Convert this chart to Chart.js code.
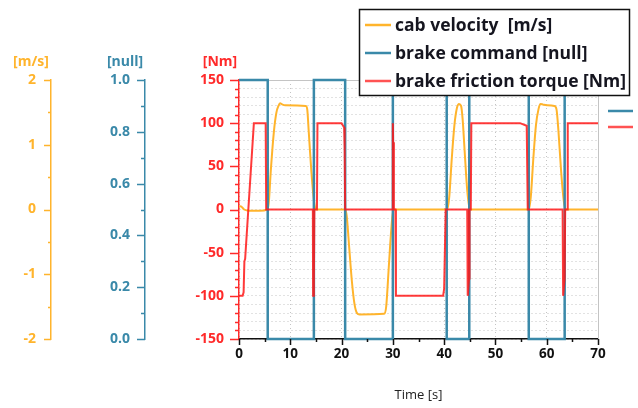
<!DOCTYPE html>
<html>
<head>
<meta charset="utf-8">
<title>Brake test</title>
<script src="https://cdn.jsdelivr.net/npm/chart.js@4.4.1/dist/chart.umd.min.js"></script>
<style>
  html, body { margin: 0; padding: 0; background: #fff; }
  canvas { display: block; }
</style>
</head>
<body>
<canvas id="brakeChart" width="638" height="408"></canvas>
<script>
// ---------- recorded signals ----------
// cab velocity [m/s]
const velocityTime  = [0, 0.3, 1, 2, 4, 5.5, 5.8, 6.2, 6.8, 7.3, 7.7, 8.0, 8.5, 9, 13, 13.3, 13.6, 14.1, 14.6, 15,
                       20.7, 21.0, 21.5, 22.0, 22.5, 23.0, 23.5, 28.3, 28.7, 29.2, 29.7, 30.1,
                       40.6, 41.0, 41.5, 42.0, 42.5, 42.9, 43.3, 43.6, 44.0, 44.5, 45,
                       56.5, 56.9, 57.4, 57.9, 58.4, 58.8, 59.3, 60, 61.5, 61.9, 62.3, 62.8, 63.3, 63.7, 70];
const velocityValue = [0.04, 0.05, 0, -0.02, -0.02, 0, 0.1, 0.6, 1.2, 1.5, 1.6, 1.64, 1.62, 1.61, 1.6, 1.55, 1.2, 0.6, 0.15, 0,
                       0, -0.1, -0.6, -1.1, -1.45, -1.6, -1.62, -1.61, -1.5, -0.9, -0.3, 0,
                       0, 0.2, 0.8, 1.3, 1.57, 1.63, 1.6, 1.4, 0.9, 0.3, 0,
                       0, 0.2, 0.8, 1.3, 1.55, 1.63, 1.62, 1.61, 1.6, 1.55, 1.2, 0.6, 0.15, 0, 0];

// brake command [null] (1 = engaged)
const commandTime  = [0, 5.6, 5.6, 14.6, 14.6, 20.7, 20.7, 30.0, 30.0, 40.5, 40.5, 44.9, 44.9, 56.5, 56.5, 63.5, 63.5, 70];
const commandValue = [1, 1, 0, 0, 1, 1, 0, 0, 1, 1, 0, 0, 1, 1, 0, 0, 1, 1];

// brake friction torque [Nm]
const torqueTime  = [0, 0.7, 0.9, 1.05, 1.2, 2.9, 5.2, 5.3,
                     14.4, 14.45, 14.6, 14.7, 15.2, 15.3,
                     20.0, 20.5, 20.6, 20.7,
                     29.9, 30.0, 30.05, 30.2, 30.5, 30.6,
                     39.8, 40.0, 40.3,
                     44.5, 44.6, 44.85, 44.95, 45.2, 45.3,
                     54.8, 56.1, 56.3,
                     63.1, 63.2, 63.5, 63.6, 64.0, 64.1, 70];
const torqueValue = [-100, -100, -96, -60, -57, 100, 100, 0,
                     0, -100, -80, 0, 0, 100,
                     100, 95, 70, 0,
                     0, 100, 78, 0, 0, -100,
                     -100, -92, 0,
                     0, -100, -80, 0, 0, 100,
                     100, 97, 0,
                     0, -100, -80, 0, 0, 100, 100];

// axis ticks
const timeTicks     = [0, 10, 20, 30, 40, 50, 60, 70];
const velocityTicks = [-2, -1, 0, 1, 2];
const commandTicks  = [0, 0.2, 0.4, 0.6, 0.8, 1.0];
const torqueTicks   = [-150, -100, -50, 0, 50, 100, 150];

const ORANGE = '#ffb42c';
const BLUE = '#3a89a9';
const RED = 'rgba(255, 24, 24, 0.85)';
const RED_TEXT = '#ff2a2a';
const FONT = '"Open Sans", "DejaVu Sans", sans-serif';

const toPoints = (xs, ys) => xs.map((x, i) => ({ x: x, y: ys[i] }));
const useTicks = list => scale => { scale.ticks = list.map(v => ({ value: v })); };

// tick marks drawn on the axis line, long for labelled values, short in between
function drawAxisTicks(ctx, scale, majors, minors, majorLen, minorLen, color) {
  ctx.save();
  ctx.strokeStyle = color;
  ctx.lineWidth = 1.5;
  ctx.beginPath();
  const put = (v, len) => {
    const p = Math.round(scale.getPixelForValue(v)) + 0.5;
    if (scale.isHorizontal()) {
      ctx.moveTo(p, scale.top);
      ctx.lineTo(p, scale.top + len);
    } else {
      ctx.moveTo(scale.right - len, p);
      ctx.lineTo(scale.right, p);
    }
  };
  majors.forEach(v => put(v, majorLen));
  minors.forEach(v => put(v, minorLen));
  ctx.stroke();
  ctx.restore();
}

const between = (list, step) => {
  const out = [];
  for (let i = 0; i < list.length - 1; i++) {
    for (let v = list[i] + step; v < list[i + 1] - step / 2; v += step) out.push(+v.toFixed(4));
  }
  return out;
};

const decor = {
  id: 'decor',
  beforeDatasetsDraw(chart) {
    const { ctx, chartArea: a } = chart;
    ctx.save();
    ctx.strokeStyle = '#c4c4c4';
    ctx.lineWidth = 1;
    ctx.beginPath();
    ctx.moveTo(a.left, a.top + 0.5);
    ctx.lineTo(a.right + 0.5, a.top + 0.5);
    ctx.lineTo(a.right + 0.5, a.bottom);
    ctx.stroke();
    ctx.restore();
  },
  afterDraw(chart) {
    const { ctx, scales } = chart;
    drawAxisTicks(ctx, scales.v, velocityTicks, between(velocityTicks, 0.5), 7, 3, ORANGE);
    drawAxisTicks(ctx, scales.cmd, commandTicks, between(commandTicks, 0.1), 8, 4, BLUE);
    drawAxisTicks(ctx, scales.tq, torqueTicks, between(torqueTicks, 10), 9, 4, RED_TEXT);
    drawAxisTicks(ctx, scales.x, timeTicks, between(timeTicks, 5), 6, 3, '#111');

    // unit captions above the three value axes
    ctx.save();
    ctx.font = 'bold 14px ' + FONT;
    ctx.textAlign = 'center';
    ctx.textBaseline = 'middle';
    [['[m/s]', ORANGE, 31], ['[null]', BLUE, 125], ['[Nm]', RED_TEXT, 220]].forEach(([txt, col, x]) => {
      ctx.fillStyle = col;
      ctx.fillText(txt, x, 62);
    });
    ctx.restore();

    // legend box
    const labels = chart.data.datasets.map(d => d.label);
    const colors = [ORANGE, BLUE, 'rgba(255, 40, 40, 0.8)'];
    ctx.save();
    ctx.fillStyle = '#fff';
    ctx.fillRect(359, 9, 271, 87);
    ctx.strokeStyle = '#111';
    ctx.lineWidth = 1.5;
    ctx.strokeRect(359.5, 9.5, 270, 86);
    ctx.font = 'bold 17.5px ' + FONT;
    ctx.textBaseline = 'middle';
    labels.forEach((txt, i) => {
      const y = 25 + i * 28;
      ctx.strokeStyle = colors[i];
      ctx.lineWidth = 2.5;
      ctx.beginPath();
      ctx.moveTo(365, y);
      ctx.lineTo(391, y);
      ctx.stroke();
      ctx.fillStyle = '#15151f';
      ctx.fillText(txt, 395, y + 1);
    });
    // short line samples beside the plot
    [[BLUE, 111], [colors[2], 127]].forEach(([c, y]) => {
      ctx.strokeStyle = c;
      ctx.lineWidth = 2.5;
      ctx.beginPath();
      ctx.moveTo(608, y);
      ctx.lineTo(633, y);
      ctx.stroke();
    });
    ctx.restore();
  }
};

const tickFont = { family: FONT, size: 14, weight: 'bold' };

const valueAxis = (color, weight, width, min, max, list, fmt) => ({
  type: 'linear',
  position: 'left',
  weight: weight,
  min: min,
  max: max,
  afterBuildTicks: useTicks(list),
  afterFit: s => { s.width = width; },
  grid: { display: false, drawTicks: false },
  border: { display: true, color: color, width: 1.5 },
  ticks: { color: color, padding: 15, font: tickFont, callback: fmt }
});

new Chart(document.getElementById('brakeChart'), {
  type: 'line',
  data: {
    datasets: [
      { label: 'cab velocity  [m/s]', data: toPoints(velocityTime, velocityValue), yAxisID: 'v',
        borderColor: ORANGE, borderWidth: 2, cubicInterpolationMode: 'monotone', order: 2 },
      { label: 'brake command [null]', data: toPoints(commandTime, commandValue), yAxisID: 'cmd',
        borderColor: BLUE, borderWidth: 2.5, order: 1, clip: 3 },
      { label: 'brake friction torque [Nm]', data: toPoints(torqueTime, torqueValue), yAxisID: 'tq',
        borderColor: RED, borderWidth: 2, order: 0 }
    ]
  },
  options: {
    responsive: false,
    animation: false,
    devicePixelRatio: 1,
    elements: { point: { radius: 0 }, line: { tension: 0 } },
    layout: { padding: { top: 80, right: 40, left: 0, bottom: 0 } },
    plugins: { legend: { display: false }, tooltip: { enabled: false } },
    scales: {
      x: {
        type: 'linear',
        min: 0,
        max: 70,
        afterBuildTicks: useTicks(timeTicks),
        afterFit: s => { s.height = 69; },
        grid: { display: true, drawTicks: false, color: '#c4c4c4', lineWidth: 1 },
        border: { display: true, color: '#111', width: 1.5, dash: [1, 3] },
        ticks: { color: '#111', padding: 7, font: { family: FONT, size: 13.5, weight: 'bold' } },
        title: { display: true, text: 'Time [s]', color: '#222', padding: { bottom: 5 },
                 font: { family: FONT, size: 13 } }
      },
      v: valueAxis(ORANGE, 2, 51, -2, 2, velocityTicks, v => String(v)),
      cmd: valueAxis(BLUE, 1, 94, 0, 1, commandTicks, v => v.toFixed(1)),
      tq: Object.assign(valueAxis(RED_TEXT, 0, 94, -150, 150, torqueTicks, v => String(v)), {
        afterBuildTicks: scale => {
          // one dotted grid line every 10 Nm, labels only on the listed values
          const t = [];
          for (let v = -150; v <= 150; v += 10) t.push({ value: v });
          scale.ticks = t;
        },
        grid: { display: true, drawTicks: false, color: '#c4c4c4', lineWidth: 1 },
        border: { display: true, color: RED_TEXT, width: 1.5, dash: [1, 3] },
        ticks: { color: RED_TEXT, padding: 15, autoSkip: false, font: tickFont,
                 callback: v => torqueTicks.includes(v) ? String(v) : '' }
      })
    }
  },
  plugins: [decor]
});
</script>
</body>
</html>
